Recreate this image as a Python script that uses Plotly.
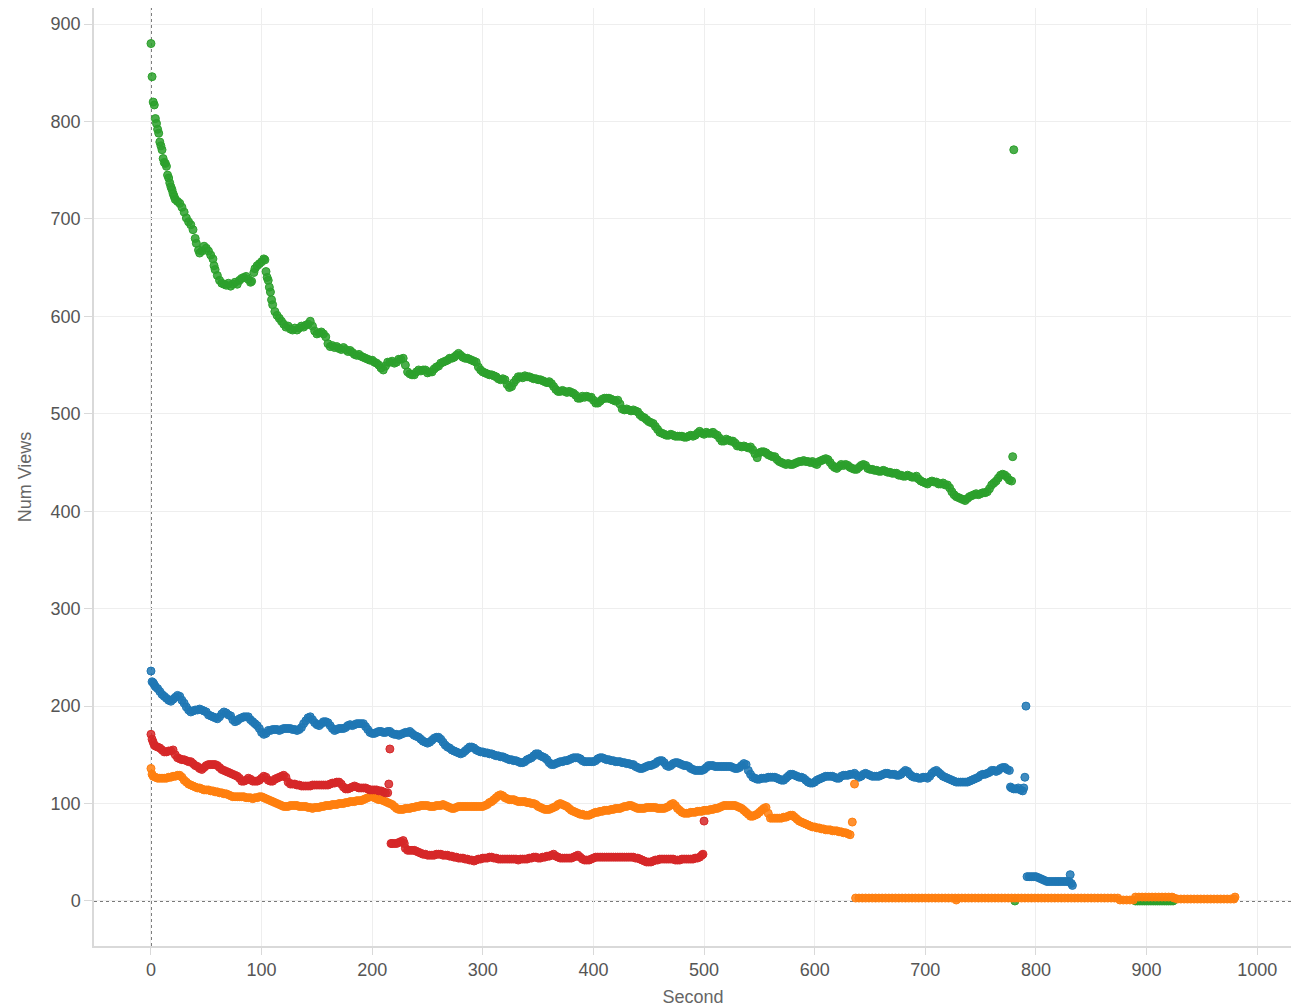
import plotly.graph_objects as go

# ---------------- data ----------------
green_pts = [(0,880),(1,846),(2,820),(3,817),(4,803),(5,798),(6,792),(7,788),(8,779),(9,775),(10,771),
 (11,762),(12,758),(13,757),(14,754),(15,745),(16,742),(17,737),(18,733),(19,730),(20,726),(21,723),(22,720),
 (24,718),(26,716),(28,712),(30,707),(32,701),(34,697),(36,694),(38,689),(40,680),(41,675),(43,668),(44,665),
 (46,667),(48,672),(50,670),(52,667),(54,663),(56,659),(57,652),(58,648),(60,642),(62,637),(64,634),(66,633),
 (68,632),(70,634),(72,631),(74,633),(76,635),(78,633),(80,637),(82,639),(84,640),(86,641),(88,638),(90,635),
 (91,636),(93,645),(94,649),(96,652),(98,654),(100,656),(102,659),(103,658),(104,646),(105,640),(106,637),
 (107,630),(108,625),(109,617),(110,612),(112,605),(114,601),(116,598),(118,595),(120,592),(122,589),(124,590),
 (126,587),(128,586),(130,588),(132,586),(134,588),(136,590),(138,589),(140,591),(142,592),(144,595),(146,590),
 (148,585),(150,582),(152,583),(154,584),(156,582),(158,579),(160,572),(162,569),(164,570),(166,568),(168,569),
 (170,567),(172,566),(174,568),(176,566),(178,564),(180,565),(182,563),(184,561),(186,560),(188,561),(190,559),
 (192,558),(194,557),(196,556),(198,555),(200,555),(202,553),(204,552),(206,550),(208,547),(210,545),(212,549),
 (214,553),(216,553),(218,554),(220,552),(222,553),(224,556),(226,556),(228,557),(230,550),(232,543),(234,541),
 (236,540),(238,540),(240,543),(242,545),(244,544),(246,545),(248,545),(250,542),(252,543),(254,543),(256,546),
 (258,548),(260,549),(262,552),(264,553),(266,554),(268,555),(270,557),(272,557),(274,558),(276,560),(278,562),
 (280,560),(282,558),(284,557),(286,557),(288,556),(290,555),(292,554),(294,553),(296,548),(298,545),(300,543),
 (302,542),(304,541),(306,540),(308,540),(310,539),(312,538),(314,536),(316,535),(318,536),(320,535),(322,530),
 (324,527),(326,528),(328,532),(330,535),(332,538),(334,538),(336,537),(338,539),(340,538),(342,538),(344,537),
 (346,536),(348,536),(350,535),(352,535),(354,534),(356,533),(358,532),(360,533),(362,531),(364,528),(366,525),
 (368,523),(370,523),(372,524),(374,523),(376,522),(378,523),(380,522),(382,521),(384,519),(386,516),(388,516),
 (390,518),(392,517),(394,518),(396,517),(398,517),(400,514),(402,511),(404,511),(406,513),(408,515),(410,516),
 (412,516),(414,516),(416,515),(418,514),(420,513),(422,514),(424,510),(426,505),(428,504),(430,505),(432,504),
 (434,503),(436,504),(438,503),(440,502),(442,499),(444,497),(446,496),(448,494),(450,492),(452,491),(454,490),
 (456,487),(458,484),(460,481),(462,480),(464,479),(466,478),(468,478),(470,479),(472,478),(474,477),(476,477),
 (478,477),(480,477),(482,476),(484,476),(486,477),(488,478),(490,477),(492,478),(494,480),(496,482),(498,480),
 (500,479),(502,481),(504,480),(506,480),(508,481),(510,479),(512,478),(514,475),(516,472),(518,472),(520,474),
 (522,473),(524,472),(526,472),(528,470),(530,467),(532,467),(534,466),(536,467),(538,466),(540,465),(542,466),
 (544,463),(546,459),(548,455),(550,460),(552,461),(554,461),(556,460),(558,458),(560,457),(562,456),(564,456),
 (566,453),(568,451),(570,450),(572,449),(574,448),(576,449),(578,448),(580,448),(582,449),(584,450),(586,451),
 (588,451),(590,452),(592,451),(594,451),(596,450),(598,451),(600,449),(602,448),(604,451),(606,452),(608,453),
 (610,454),(612,453),(614,450),(616,447),(618,445),(620,444),(622,446),(624,448),(626,447),(628,448),(630,447),
 (632,445),(634,444),(636,443),(638,443),(640,445),(642,447),(644,448),(646,447),(648,444),(650,443),(652,443),
 (654,442),(656,442),(658,441),(660,441),(662,442),(664,441),(666,440),(668,440),(670,439),(672,439),(674,439),
 (676,437),(678,437),(680,436),(682,436),(684,437),(686,436),(688,435),(690,435),(692,436),(694,433),(696,431),
 (698,430),(700,429),(702,428),(704,430),(706,431),(708,430),(710,430),(712,428),(714,428),(716,429),(718,427),
 (720,427),(722,424),(724,420),(726,417),(728,415),(730,414),(732,413),(734,412),(736,411),(738,413),(740,415),
 (742,416),(744,417),(746,418),(748,417),(750,418),(752,419),(754,419),(756,420),(758,423),(760,427),(762,429),
 (764,431),(766,434),(768,437),(770,438),(772,437),(774,435),(776,432),(778,431),(779,456),(780,771),
 (781,0),(890,0),(892,0),(894,0),(896,0),(898,0),(900,0),(902,0),(904,0),(906,0),(908,0),(910,0),(912,0),
 (914,0),(916,0),(918,0),(920,0),(922,0),(924,0)]

blue_pts = [(0,236),(1,225),(2,224),(3,222),(4,220),(6,218),(8,215),(10,212),(12,210),(14,208),(16,206),(18,205),
 (20,207),(22,209),(24,211),(26,210),(28,206),(30,203),(32,199),(34,196),(36,194),(38,195),(40,196),(42,196),
 (44,197),(46,196),(48,195),(50,194),(52,191),(54,190),(56,189),(58,188),(60,187),(62,189),(64,192),(66,194),
 (68,193),(70,191),(72,190),(74,186),(76,184),(78,185),(80,187),(82,188),(84,189),(86,189),(88,189),(90,186),
 (92,184),(94,182),(96,180),(98,177),(100,173),(102,171),(104,172),(106,175),(108,175),(110,176),(112,176),
 (114,176),(116,175),(118,176),(120,177),(122,177),(124,177),(126,177),(128,176),(130,176),(132,175),(134,176),
 (136,178),(138,182),(140,185),(142,188),(144,189),(146,186),(148,183),(150,181),(152,180),(154,182),(156,184),
 (158,184),(160,183),(162,180),(164,177),(166,175),(168,176),(170,177),(172,177),(174,177),(176,178),(178,180),
 (180,181),(182,180),(184,181),(186,182),(188,182),(190,182),(192,182),(194,179),(196,176),(198,173),(200,172),
 (202,172),(204,173),(206,174),(208,174),(210,173),(212,173),(214,174),(216,174),(218,172),(220,171),(222,171),
 (224,170),(226,171),(228,172),(230,173),(232,173),(234,174),(236,172),(238,170),(240,169),(242,168),(244,166),
 (246,164),(248,163),(250,162),(252,163),(254,165),(256,167),(258,168),(260,168),(262,166),(264,163),(266,160),
 (268,158),(270,157),(272,155),(274,154),(276,153),(278,152),(280,151),(282,152),(284,154),(286,156),(288,158),
 (290,158),(292,157),(294,155),(296,154),(298,153),(300,153),(302,152),(304,152),(306,151),(308,151),(310,150),
 (312,149),(314,149),(316,148),(318,148),(320,147),(322,146),(324,145),(326,145),(328,144),(330,144),(332,143),
 (334,142),(336,142),(338,143),(340,145),(342,146),(344,147),(346,149),(348,151),(350,151),(352,149),(354,148),
 (356,147),(358,145),(360,142),(362,140),(364,140),(366,141),(368,142),(370,143),(372,143),(374,144),(376,144),
 (378,145),(380,146),(382,147),(384,147),(386,147),(388,146),(390,144),(392,143),(394,143),(396,143),(398,143),
 (400,143),(402,144),(404,146),(406,147),(408,147),(410,146),(412,145),(414,145),(416,144),(418,144),(420,143),
 (422,143),(424,143),(426,142),(428,142),(430,141),(432,141),(434,140),(436,140),(438,138),(440,137),(442,136),
 (444,136),(446,137),(448,138),(450,139),(452,139),(454,140),(456,141),(458,143),(460,144),(462,144),(464,142),
 (466,139),(468,138),(470,139),(472,141),(474,142),(476,142),(478,141),(480,140),(482,139),(484,139),(486,138),
 (488,136),(490,135),(492,134),(494,134),(496,134),(498,134),(500,135),(502,137),(504,139),(506,139),(508,139),
 (510,138),(512,138),(514,138),(516,138),(518,138),(520,138),(522,138),(524,138),(526,137),(528,136),(530,136),
 (532,137),(534,139),(536,141),(538,140),(540,134),(542,130),(544,127),(546,126),(548,125),(550,125),(552,126),
 (554,126),(556,126),(558,127),(560,127),(562,127),(564,127),(566,126),(568,125),(570,124),(572,124),(574,126),
 (576,128),(578,130),(580,130),(582,129),(584,128),(586,127),(588,127),(590,126),(592,124),(594,122),(596,121),
 (598,121),(600,122),(602,124),(604,125),(606,126),(608,127),(610,128),(612,128),(614,128),(616,128),(618,127),
 (620,126),(622,126),(624,128),(626,129),(628,129),(630,129),(632,130),(634,130),(636,131),(638,129),(640,127),
 (642,128),(644,130),(646,131),(648,130),(650,129),(652,128),(654,128),(656,128),(658,128),(660,129),(662,130),
 (664,131),(666,131),(668,130),(670,130),(672,130),(674,129),(676,129),(678,130),(680,132),(682,134),(684,133),
 (686,130),(688,128),(690,127),(692,127),(694,126),(696,126),(698,127),(700,127),(702,126),(704,128),(706,131),
 (708,133),(710,134),(712,132),(714,130),(716,128),(718,127),(720,126),(722,125),(724,124),(726,123),(728,122),
 (730,122),(732,122),(734,122),(736,122),(738,122),(740,123),(742,124),(744,125),(746,126),(748,127),(750,129),
 (752,130),(754,130),(756,131),(758,132),(760,134),(762,134),(764,133),(766,134),(768,136),(770,137),(772,137),
 (774,135),(776,134),(777,117),(778,116),(780,115),(782,115),(784,116),(786,114),(788,113),(789,116),(790,127),
 (791,200),(792,25),(794,25),(796,25),(798,25),(800,25),(802,24),(804,23),(806,22),(808,21),(810,20),(812,20),
 (814,20),(816,20),(818,20),(820,20),(822,20),(824,20),(826,20),(828,20),(830,20),(831,27),(832,18),(833,16)]

red_pts = [(0,171),(1,166),(2,163),(3,160),(4,159),(6,158),(8,157),(10,155),(12,153),(14,153),(16,154),(18,154),
 (20,155),(22,150),(24,147),(26,146),(28,145),(30,145),(32,144),(34,143),(36,143),(38,141),(40,139),(42,138),
 (44,136),(46,135),(48,137),(50,139),(52,140),(54,140),(56,140),(58,140),(60,139),(62,137),(64,135),(66,134),
 (68,133),(70,132),(72,131),(74,130),(76,129),(78,128),(80,126),(82,123),(84,123),(86,124),(88,126),(90,125),
 (92,123),(94,123),(96,123),(98,124),(100,126),(102,128),(104,127),(106,124),(108,123),(110,123),(112,125),
 (114,126),(116,127),(118,128),(120,129),(122,127),(124,122),(126,120),(128,120),(130,120),(132,119),(134,119),
 (136,118),(138,118),(140,118),(142,118),(144,118),(146,119),(148,119),(150,119),(152,119),(154,119),(156,119),
 (158,119),(160,119),(162,120),(164,121),(166,121),(168,122),(170,122),(172,120),(174,117),(176,115),(178,115),
 (180,116),(182,117),(184,118),(186,117),(188,116),(190,116),(192,116),(194,116),(196,115),(198,114),(200,114),
 (202,114),(204,114),(206,113),(208,113),(210,112),(212,111),(214,111),(215,120),(216,156),(217,59),(218,59),
 (220,59),(222,59),(224,60),(226,61),(228,62),(229,59),(230,54),(232,52),(234,52),(236,52),(238,52),(240,51),
 (242,50),(244,49),(246,48),(248,48),(250,47),(252,47),(254,47),(256,47),(258,48),(260,48),(262,48),(264,47),
 (266,47),(268,47),(270,46),(272,46),(274,45),(276,45),(278,44),(280,44),(282,44),(284,43),(286,43),(288,42),
 (290,42),(292,41),(294,42),(296,43),(298,43),(300,44),(302,44),(304,44),(306,45),(308,45),(310,44),(312,44),
 (314,43),(316,43),(318,43),(320,43),(322,43),(324,43),(326,43),(328,43),(330,43),(332,42),(334,43),(336,43),
 (338,43),(340,43),(342,44),(344,44),(346,45),(348,45),(350,44),(352,44),(354,45),(356,45),(358,46),(360,46),
 (362,47),(364,48),(366,46),(368,45),(370,44),(372,44),(374,44),(376,44),(378,44),(380,44),(382,45),(384,46),
 (386,47),(388,45),(390,43),(392,42),(394,42),(396,42),(398,43),(400,44),(402,45),(404,45),(406,45),(408,45),
 (410,45),(412,45),(414,45),(416,45),(418,45),(420,45),(422,45),(424,45),(426,45),(428,45),(430,45),(432,45),
 (434,45),(436,45),(438,44),(440,44),(442,43),(444,42),(446,41),(448,40),(450,40),(452,40),(454,41),(456,42),
 (458,42),(460,43),(462,43),(464,43),(466,43),(468,43),(470,43),(472,43),(474,42),(476,42),(478,42),(480,43),
 (482,43),(484,43),(486,43),(488,43),(490,43),(492,44),(494,44),(496,45),(498,47),(499,48),(500,82)]

orange_pts = [(0,136),(1,130),(2,128),(4,127),(6,126),(8,126),(10,126),(12,126),(14,126),(16,127),(18,127),
 (20,128),(22,128),(24,129),(26,129),(28,127),(30,124),(32,122),(34,120),(36,119),(38,118),(40,117),(42,116),
 (44,116),(46,115),(48,114),(50,114),(52,114),(54,113),(56,113),(58,112),(60,112),(62,111),(64,111),(66,110),
 (68,110),(70,109),(72,108),(74,107),(76,107),(78,107),(80,107),(82,107),(84,107),(86,106),(88,106),(90,106),
 (92,105),(94,106),(96,106),(98,107),(100,107),(102,106),(104,105),(106,104),(108,103),(110,102),(112,101),
 (114,100),(116,99),(118,98),(120,97),(122,97),(124,97),(126,98),(128,98),(130,98),(132,98),(134,97),(136,97),
 (138,97),(140,97),(142,96),(144,96),(146,95),(148,96),(150,96),(152,96),(154,97),(156,97),(158,98),(160,98),
 (162,98),(164,99),(166,99),(168,99),(170,100),(172,100),(174,100),(176,101),(178,101),(180,102),(182,102),
 (184,102),(186,103),(188,103),(190,103),(192,104),(194,105),(196,106),(198,107),(200,107),(202,106),(204,105),
 (206,104),(208,104),(210,103),(212,102),(214,101),(216,100),(218,99),(220,97),(222,95),(224,94),(226,94),
 (228,94),(230,95),(232,95),(234,95),(236,96),(238,96),(240,97),(242,97),(244,98),(246,98),(248,98),(250,98),
 (252,97),(254,97),(256,97),(258,98),(260,98),(262,98),(264,99),(266,98),(268,97),(270,96),(272,95),(274,95),
 (276,96),(278,97),(280,97),(282,97),(284,97),(286,97),(288,97),(290,97),(292,97),(294,97),(296,97),(298,97),
 (300,97),(302,98),(304,99),(306,101),(308,102),(310,104),(312,106),(314,108),(316,109),(318,108),(320,106),
 (322,105),(324,104),(326,104),(328,104),(330,103),(332,102),(334,102),(336,102),(338,102),(340,101),(342,101),
 (344,100),(346,100),(348,99),(350,97),(352,96),(354,95),(356,94),(358,94),(360,94),(362,95),(364,96),(366,97),
 (368,99),(370,100),(372,99),(374,98),(376,97),(378,95),(380,93),(382,92),(384,91),(386,90),(388,89),(390,89),
 (392,88),(394,88),(396,88),(398,89),(400,90),(402,91),(404,91),(406,92),(408,92),(410,93),(412,93),(414,93),
 (416,94),(418,94),(420,95),(422,95),(424,95),(426,96),(428,97),(430,97),(432,98),(434,98),(436,97),(438,96),
 (440,95),(442,95),(444,95),(446,95),(448,96),(450,96),(452,96),(454,96),(456,96),(458,95),(460,95),(462,95),
 (464,95),(466,96),(468,97),(470,99),(472,100),(474,98),(476,95),(478,93),(480,91),(482,90),(484,90),(486,90),
 (488,91),(490,91),(492,91),(494,92),(496,92),(498,92),(500,93),(502,93),(504,93),(506,94),(508,94),(510,95),
 (512,95),(514,96),(516,97),(518,98),(520,98),(522,98),(524,98),(526,98),(528,98),(530,97),(532,96),(534,95),
 (536,93),(538,91),(540,89),(542,87),(544,87),(546,88),(548,89),(550,91),(552,93),(554,95),(556,96),(558,90),
 (560,85),(562,85),(564,85),(566,85),(568,85),(570,85),(572,86),(574,86),(576,87),(578,88),(580,88),(582,86),
 (584,84),(586,82),(588,81),(590,80),(592,79),(594,78),(596,77),(598,76),(600,76),(602,75),(604,75),(606,74),
 (608,74),(610,73),(612,73),(614,73),(616,72),(618,72),(620,72),(622,71),(624,71),(626,70),(628,70),(630,69),
 (632,68),(634,81),(636,120),
 (637,3),(640,3),(643,3),(646,3),(649,3),(652,3),(655,3),(658,3),(661,3),(664,3),(667,3),(670,3),(673,3),
 (676,3),(679,3),(682,3),(685,3),(688,3),(691,3),(694,3),(697,3),(700,3),(703,3),(706,3),(709,3),(712,3),
 (715,3),(718,3),(721,3),(724,3),(727,3),(728,1),(730,3),(733,3),(736,3),(739,3),(742,3),(745,3),(748,3),
 (751,3),(754,3),(757,3),(760,3),(763,3),(766,3),(769,3),(772,3),(775,3),(778,3),(781,3),(784,3),(787,3),
 (790,3),(793,3),(796,3),(799,3),(802,3),(805,3),(808,3),(811,3),(814,3),(817,3),(820,3),(823,3),(826,3),
 (829,3),(832,3),(835,3),(838,3),(841,3),(844,3),(847,3),(850,3),(853,3),(856,3),(859,3),(862,3),(865,3),
 (868,3),(871,3),(874,3),(876,1),(879,1),(882,1),(885,1),(888,1),(890,4),(893,4),(896,4),(899,4),(902,4),
 (905,4),(908,4),(911,4),(914,4),(917,4),(920,4),(923,4),(925,3),(928,2),(931,2),(934,2),(937,2),(940,2),
 (943,2),(946,2),(949,2),(952,2),(955,2),(958,2),(961,2),(964,2),(967,2),(970,2),(973,2),(976,2),(979,2),
 (980,4)]

x_ticks = [0, 100, 200, 300, 400, 500, 600, 700, 800, 900, 1000]
y_ticks = [0, 100, 200, 300, 400, 500, 600, 700, 800, 900]

series = [
    ("Green", green_pts, "44,160,44"),
    ("Blue", blue_pts, "31,119,180"),
    ("Orange", orange_pts, "255,127,14"),
    ("Red", red_pts, "214,39,40"),
]

fig = go.Figure()
for name, pts, rgb in series:
    xs = [p[0] for p in pts]
    ys = [p[1] for p in pts]
    fig.add_trace(go.Scatter(
        x=xs, y=ys, mode="markers", name=name, showlegend=False,
        marker=dict(size=8, color=f"rgba({rgb},0.85)",
                    line=dict(color=f"rgb({rgb})", width=1)),
    ))

# dotted reference lines at zero
fig.add_shape(type="line", xref="x", yref="paper", x0=0, x1=0, y0=0, y1=1,
              line=dict(color="#4d4d4d", width=1.5, dash="dot"), layer="below")
fig.add_shape(type="line", xref="paper", yref="y", x0=0, x1=1, y0=0, y1=0,
              line=dict(color="#4d4d4d", width=1.5, dash="dot"), layer="below")

font_family = "Liberation Sans, Arial, sans-serif"
# the page body adds an 8px offset, so the figure is 8px smaller on each axis
fig.update_layout(
    width=1291, height=999,
    margin=dict(l=86, r=7, t=0, b=61, autoexpand=False),
    paper_bgcolor="white", plot_bgcolor="white",
    font=dict(family=font_family, size=18, color="#555555"),
    xaxis=dict(
        range=[-51.5, 1031.5], tickvals=x_ticks, ticktext=[str(v) for v in x_ticks],
        showgrid=True, gridcolor="#eeeeee", gridwidth=1, zeroline=False,
        showline=True, linecolor="#d9d9d9", linewidth=1.5,
        ticks="outside", ticklen=7, tickcolor="#d9d9d9",
        tickfont=dict(size=18, color="#555555"),
        title=dict(text="Second", font=dict(size=18, color="#666666"), standoff=11),
    ),
    yaxis=dict(
        range=[-46.2, 916.5], tickvals=y_ticks, ticktext=[str(v) for v in y_ticks],
        showgrid=True, gridcolor="#eeeeee", gridwidth=1, zeroline=False,
        showline=True, linecolor="#d9d9d9", linewidth=1.5, mirror=True,
        ticks="outside", ticklen=8, tickcolor="#d9d9d9",
        tickfont=dict(size=18, color="#555555"),
        title=dict(text="Num Views", font=dict(size=18, color="#666666"), standoff=14),
    ),
)

fig.write_html("out.html")
